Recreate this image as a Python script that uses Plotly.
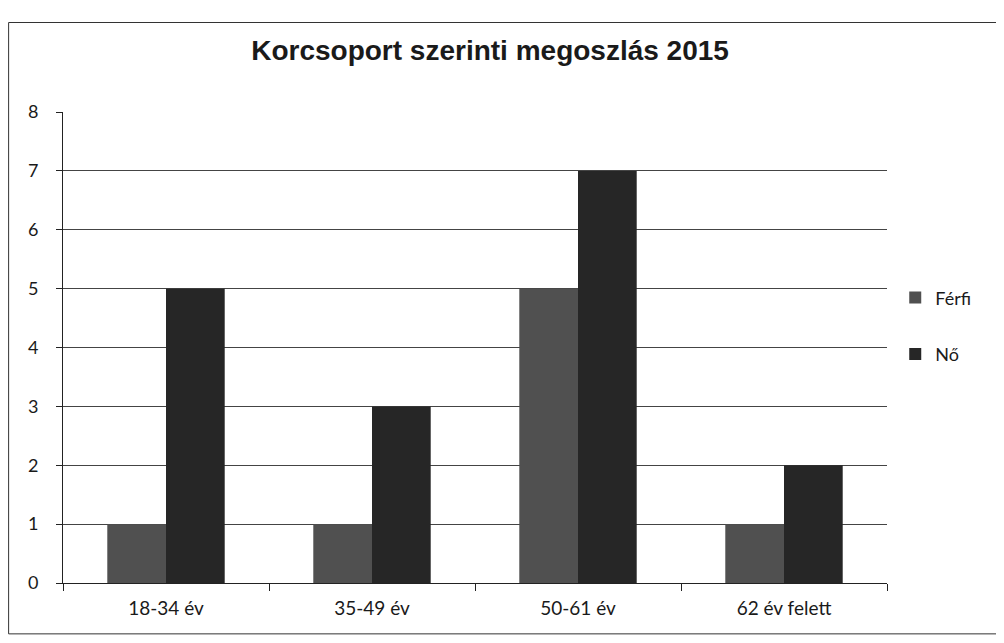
import plotly.graph_objects as go

categories = ["18-34 év", "35-49 év", "50-61 év", "62 év felett"]
ferfi = [1, 1, 5, 1]
no = [5, 3, 7, 2]
y_ticks = [0, 1, 2, 3, 4, 5, 6, 7, 8]

fig = go.Figure()
fig.add_trace(go.Bar(name="Férfi", x=categories, y=ferfi, legendgroup="a",
                     marker=dict(color="#505050", line=dict(width=0))))
fig.add_trace(go.Bar(name="Nő", x=categories, y=no, legendgroup="b",
                     marker=dict(color="#262626", line=dict(width=0))))

fig.update_layout(
    width=996, height=635,
    paper_bgcolor="white", plot_bgcolor="white",
    barmode="group", bargap=0.43, bargroupgap=0,
    margin=dict(l=55, r=117, t=104, b=60),
    title=dict(text="<b>Korcsoport szerinti megoszlás 2015</b>", x=0.484, xanchor="center",
               y=0.934, yanchor="middle",
               font=dict(family="Liberation Sans, Arial", size=28, color="#1a1a1a")),
    font=dict(family="Lato, Open Sans, sans-serif", size=18, color="#1a1a1a"),
    legend=dict(x=1.01, xanchor="left", y=0.546, yanchor="middle",
                font=dict(size=18), itemwidth=30, tracegroupgap=30, traceorder="grouped"),
    showlegend=True,
    xaxis=dict(showline=True, linecolor="#222", linewidth=1, ticks="outside", tickson="boundaries",
               ticklen=7, tickcolor="#222", showgrid=False, tickfont=dict(size=19),
               ticklabelstandoff=8),
    yaxis=dict(range=[0, 8], tickvals=y_ticks, showline=True, linecolor="#222", linewidth=1,
               ticks="outside", ticklen=6, tickcolor="#222", showgrid=True, gridcolor="#444",
               gridwidth=1, zeroline=False, tickfont=dict(size=18), ticklabelstandoff=14),
    shapes=[dict(type="rect", xref="paper", yref="paper", x0=-0.066, x1=1.137, y0=-0.108, y1=1.19,
                 line=dict(color="#333", width=1), fillcolor="rgba(0,0,0,0)")],
)

fig.write_html("out.html")
